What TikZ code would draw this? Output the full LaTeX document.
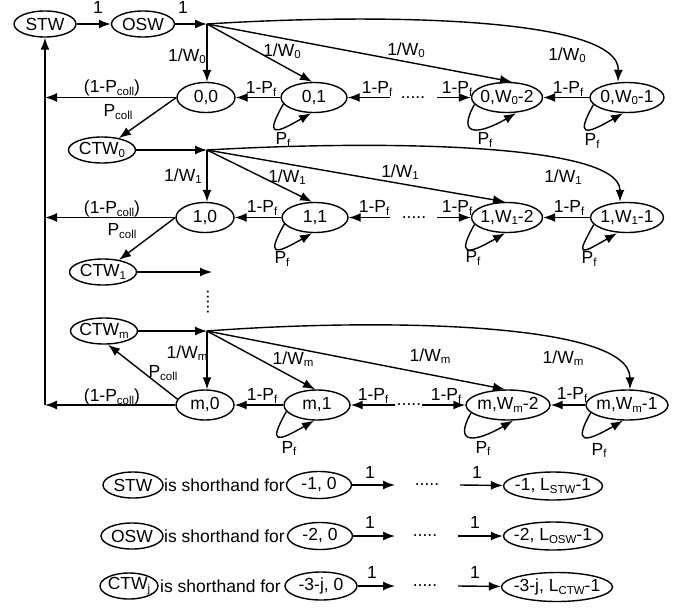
\documentclass[tikz,border=0pt]{standalone}
\usepackage{fontspec}
\setmainfont{Liberation Sans}
\usetikzlibrary{arrows.meta,shapes.geometric,calc}
\newcommand\sbs[1]{\raisebox{-2.5pt}{\fontsize{11.5}{11.5}\selectfont #1}}
\newcommand\pfloop[4]{%
  \draw[arr] (#1.192) .. controls +(-18,32) and +(-38,22) .. ($(#1.south)+(#2,0)$);
  \node[lb] (#1pf) at ($(#1.south)+(#3,#4)$) {P\sbs{f}};}
\begin{document}
\begin{tikzpicture}[x=1pt,y=-1pt,
  every node/.style={font=\fontsize{17.5}{19}\selectfont},
  st/.style={draw, ellipse, line width=1.4pt, inner xsep=-6pt, inner ysep=0pt, minimum height=30pt},
  wn/.style={draw, ellipse, line width=1.4pt, inner xsep=-6pt, inner ysep=0pt, minimum height=26pt},
  arr/.style={line width=1.4pt, -{Latex[length=12pt,width=9pt]}},
  lb/.style={inner sep=0pt}]
\useasboundingbox (0,0) rectangle (684,607);

% ---------- top ----------
\node[wn, minimum width=62pt] (stw) at (45,24) {STW};
\node[wn, minimum width=63pt] (osw) at (143,24) {OSW};
\coordinate (h0) at (207,24);
\draw[arr] (stw) -- (osw);
\draw[arr] (osw) -- (h0);
\node[lb] (t1) at (98,7) {1};
\node[lb] (t2) at (183,7) {1};

% ---------- row 0 ----------
\node[st, minimum width=58pt] (a0) at (206,97.5) {0,0};
\node[st, minimum width=66pt] (a1) at (314,97.5) {0,1};
\node[st, minimum width=71pt] (a2) at (507,97.5) {0,W\sbs{0}-2};
\node[st, minimum width=74pt] (a3) at (627,97.5) {0,W\sbs{0}-1};
\draw[arr] (h0) -- (h0 |- a0.north);
\draw[arr] (h0) -- ($(a1.north)+(-2,0)$);
\draw[arr] (h0) -- ($(a2.north)+(5,0)$);
\draw[arr] (h0) .. controls (380,13) and (620,17) .. ($(a3.north)+(-9,0)$);
\node[lb] (r0v) at (187,56) {1/W\sbs{0}};
\node[lb] (r0a) at (282,51) {1/W\sbs{0}};
\node[lb] (r0b) at (406,50) {1/W\sbs{0}};
\node[lb] (r0c) at (567,55) {1/W\sbs{0}};
\draw[arr] (a1) -- (a0);
\coordinate (d0a) at (390,97.5);
\draw[arr] (d0a) -- (a1);
\node[lb] (dots0) at (413,97.5) {.....};
\coordinate (d0b) at (437,97.5);
\draw[arr] (d0b) -- (a2);
\draw[arr] (a3) -- (a2);
\node[lb] (f0a) at (261,89) {1-P\sbs{f}};
\node[lb] (f0b) at (377,89) {1-P\sbs{f}};
\node[lb] (f0c) at (457,89) {1-P\sbs{f}};
\node[lb] (f0d) at (568,89) {1-P\sbs{f}};
\pfloop{a1}{-3}{-31}{27}
\pfloop{a2}{9}{-22}{27}
\pfloop{a3}{-4}{-35}{28}
\coordinate (v0) at (45,97.5);
\draw[arr] (a0) -- (v0);
\node[lb] (q0) at (112,88) {(1-P\sbs{coll})};
\node[wn, minimum width=67pt] (c0) at (102,150) {CTW\sbs{0}};
\draw[arr] (a0.west) -- (c0);
\node[lb] (p0) at (118,112) {P\sbs{coll}};
\coordinate (h1) at (207,150);
\draw[arr] (c0) -- (h1);

% ---------- row 1 ----------
\node[st, minimum width=58pt] (b0) at (205,217.5) {1,0};
\node[st, minimum width=66pt] (b1) at (315,217.5) {1,1};
\node[st, minimum width=71pt] (b2) at (507,217.5) {1,W\sbs{1}-2};
\node[st, minimum width=73pt] (b3) at (627,217.5) {1,W\sbs{1}-1};
\draw[arr] (h1) -- (h1 |- b0.north);
\draw[arr] (h1) -- ($(b1.north)+(-3,0)$);
\draw[arr] (h1) -- ($(b2.north)+(-2,0)$);
\draw[arr] (h1) .. controls (380,140) and (620,143) .. ($(b3.north)+(-7,0)$);
\node[lb] (r1v) at (183,176) {1/W\sbs{1}};
\node[lb] (r1a) at (287,177) {1/W\sbs{1}};
\node[lb] (r1b) at (400,172) {1/W\sbs{1}};
\node[lb] (r1c) at (563,177) {1/W\sbs{1}};
\draw[arr] (b1) -- (b0);
\coordinate (d1a) at (390,217.5);
\draw[arr] (d1a) -- (b1);
\node[lb] (dots1) at (414,217.5) {.....};
\coordinate (d1b) at (437,217.5);
\draw[arr] (d1b) -- (b2);
\draw[arr] (b3) -- (b2);
\node[lb] (f1a) at (262,208) {1-P\sbs{f}};
\node[lb] (f1b) at (374,208) {1-P\sbs{f}};
\node[lb] (f1c) at (457,208) {1-P\sbs{f}};
\node[lb] (f1d) at (569,208) {1-P\sbs{f}};
\pfloop{b1}{-3}{-33}{26}
\pfloop{b2}{-2}{-34}{25}
\pfloop{b3}{-10}{-38}{26}
\coordinate (v1) at (45,217.5);
\draw[arr] (b0) -- (v1);
\node[lb] (q1) at (112,209) {(1-P\sbs{coll})};
\node[wn, minimum width=67pt] (c1) at (103,272) {CTW\sbs{1}};
\draw[arr] (b0.west) -- (c1);
\node[lb] (p1) at (122,231) {P\sbs{coll}};
\coordinate (e1) at (212,272);
\draw[arr] (c1) -- (e1);
\node[lb, rotate=90] (vd) at (208,302) {.....};

% ---------- row m ----------
\node[wn, minimum width=67pt] (cm) at (104,331) {CTW\sbs{m}};
\coordinate (hm) at (207,331);
\draw[arr] (cm) -- (hm);
\node[st, minimum width=58pt] (m0) at (205,405) {m,0};
\node[st, minimum width=66pt] (m1) at (317,405) {m,1};
\node[st, minimum width=84pt] (m2) at (508,405) {m,W\sbs{m}-2};
\node[st, minimum width=82pt] (m3) at (627,405) {m,W\sbs{m}-1};
\draw[arr] (hm) -- (hm |- m0.north);
\draw[arr] (hm) -- ($(m1.north)+(-2,0)$);
\draw[arr] (hm) -- ($(m2.north)+(-3,0)$);
\draw[arr] (hm) .. controls (380,318) and (630,322) .. ($(m3.north)+(3,0)$);
\node[lb] (rmv) at (187,353) {1/W\sbs{m}};
\node[lb] (rma) at (293,359) {1/W\sbs{m}};
\node[lb] (rmb) at (430,356) {1/W\sbs{m}};
\node[lb] (rmc) at (563,358) {1/W\sbs{m}};
\draw[arr] (m1) -- (m0);
\coordinate (dma) at (395,405);
\draw[arr] (dma) -- (m1);
\node[lb] (dotsm) at (409,405) {.....};
\coordinate (dmb) at (422,405);
\draw[arr] (dmb) -- (m2);
\draw[arr] (m3) -- (m2);
\node[lb] (fma) at (262,396) {1-P\sbs{f}};
\node[lb] (fmb) at (373,396) {1-P\sbs{f}};
\node[lb] (fmc) at (446,396) {1-P\sbs{f}};
\node[lb] (fmd) at (572,395) {1-P\sbs{f}};
\pfloop{m1}{-3}{-28}{28}
\pfloop{m2}{5}{-25}{28}
\pfloop{m3}{-4}{-28}{30}
\coordinate (vm) at (45,405);
\draw[arr] (m0) -- (vm);
\node[lb] (qm) at (112,397) {(1-P\sbs{coll})};
\draw[arr] (m0.168) -- ($(cm.south)+(4,0)$);
\node[lb] (pm) at (163,373) {P\sbs{coll}};
\draw[arr] (vm) -- (stw);

% ---------- legend ----------
\node[wn, minimum width=60pt] (ls1) at (133,485) {STW};
\node[lb, anchor=west] (tx1) at (164,485) {is shorthand for};
\node[st, minimum width=65pt, minimum height=27pt] (la1) at (319,485) {-1, 0};
\coordinate (lq1) at (395,485);
\draw[arr] (la1) -- (lq1);
\node[lb] (lo1) at (370,472) {1};
\node[lb] (ld1) at (427,485) {.....};
\coordinate (lr1) at (460,485);
\node[st, minimum width=99pt, minimum height=28pt] (lb1) at (553,486) {-1, L\sbs{STW}-1};
\draw[arr] (lr1) -- (lb1);
\node[lb] (lp1) at (477,472) {1};

\node[wn, minimum width=62pt] (ls2) at (132,536) {OSW};
\node[lb, anchor=west] (tx2) at (164,536) {is shorthand for};
\node[st, minimum width=65pt, minimum height=27pt] (la2) at (320,536) {-2, 0};
\coordinate (lq2) at (395,536);
\draw[arr] (la2) -- (lq2);
\node[lb] (lo2) at (370,522) {1};
\node[lb] (ld2) at (425,536) {.....};
\coordinate (lr2) at (458,536);
\node[st, minimum width=99pt, minimum height=28pt] (lb2) at (553,536) {-2, L\sbs{OSW}-1};
\draw[arr] (lr2) -- (lb2);
\node[lb] (lp2) at (475,522) {1};

\node[wn, minimum width=58pt] (ls3) at (129,586) {CTW\sbs{j}};
\node[lb, anchor=west] (tx3) at (160,586) {is shorthand for};
\node[st, minimum width=72pt, minimum height=28pt] (la3) at (321,586) {-3-j, 0};
\coordinate (lq3) at (395,586);
\draw[arr] (la3) -- (lq3);
\node[lb] (lo3) at (372,572) {1};
\node[lb] (ld3) at (425,586) {.....};
\coordinate (lr3) at (458,586);
\node[st, minimum width=111pt, minimum height=29pt] (lb3) at (557,587) {-3-j, L\sbs{CTW}-1};
\draw[arr] (lr3) -- (lb3);
\node[lb] (lp3) at (475,572) {1};
\end{tikzpicture}
\end{document}
